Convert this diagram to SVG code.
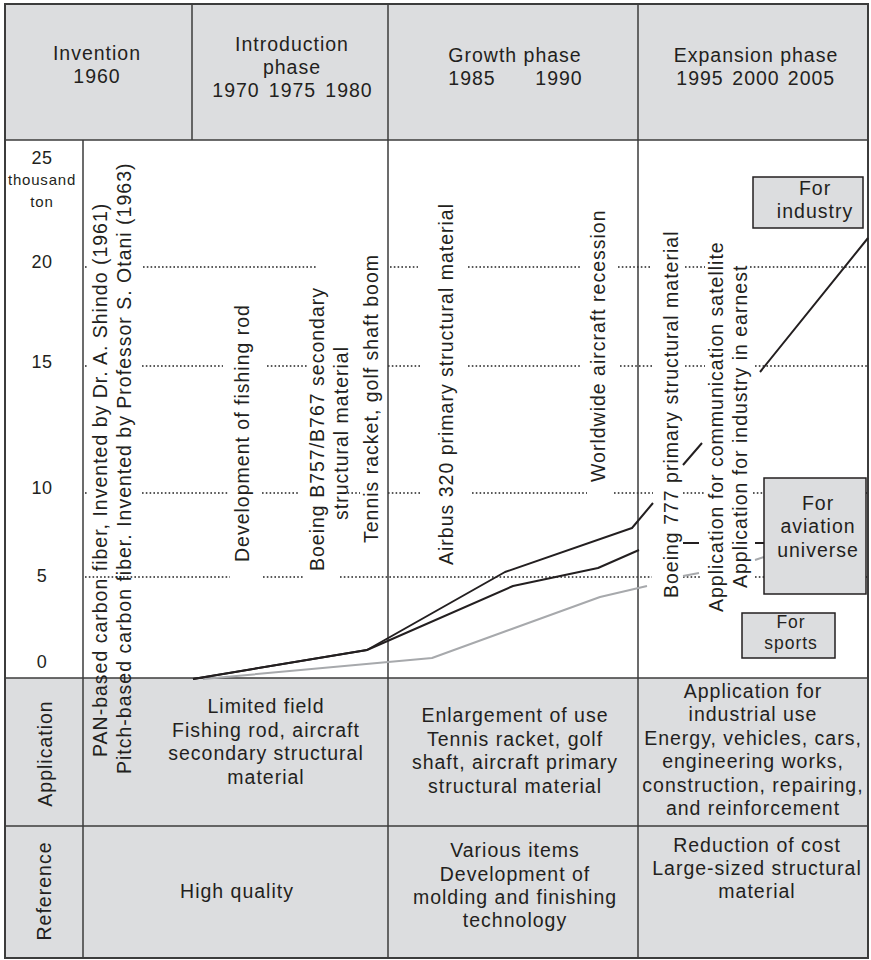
<svg xmlns="http://www.w3.org/2000/svg" width="871" height="960" viewBox="0 0 871 960">
<style>
.t{font-family:"Liberation Sans",Arial,Helvetica,sans-serif;font-size:19.5px;letter-spacing:1px;fill:#231f20}
.m{text-anchor:middle}
.s{font-size:15px;letter-spacing:0.8px}
.a{font-size:18px;letter-spacing:0.5px}
.sp{font-size:17.5px;letter-spacing:1px}
.grid{stroke:#3c3c3c;stroke-width:1.5;fill:none}
.dot{stroke:#222;stroke-width:1.5;stroke-dasharray:1.6 2.2;fill:none}
.bk{stroke:#231f20;stroke-width:2;fill:none;stroke-linejoin:round}
.gr{stroke:#a7a9ac;stroke-width:2;fill:none;stroke-linejoin:round}
.box{fill:#dcdddf;stroke:#231f20;stroke-width:1.5}
.fill{fill:#dcdddf}
</style>
<rect x="0" y="0" width="871" height="960" fill="#fff"/>
<rect class="fill" x="5" y="4" width="863" height="136"/>
<rect class="fill" x="5" y="678" width="863" height="280"/>

<g id="gridlines">
<path class="dot" d="M85,267H88M143,267H317M390,267H418M468,267H580M618,267H652M685,267H705M750,267H868"/>
<path class="dot" d="M85,366H88M142,366H223M267,366H307M388,366H420M468,366H580M620,366H652M685,366H705M755,366H868"/>
<path class="dot" d="M85,493H88M142,493H228M262,493H300M340,493H360M388,493H420M472,493H587M614,493H653M683,493H705M753,493H763M866,493H868"/>
<path class="dot" d="M85,577H230M263,577H303M340,577H652M683,577H700M755,577H764M866,577H868"/>
</g>

<g id="table" class="grid">
<rect x="5" y="4" width="863" height="954" stroke-width="2"/>
<path d="M5,140H868M5,678H868M5,826H868"/>
<path d="M83,140V958M192,4V140M388,4V958M638,4V958"/>
</g>

<g id="header-invention">
<text class="t m" x="97" y="60">Invention</text>
<text class="t m" x="97" y="83">1960</text>
</g>
<g id="header-introduction">
<text class="t m" x="292" y="51">Introduction</text>
<text class="t m" x="292" y="74">phase</text>
<text class="t m" x="236" y="97">1970</text>
<text class="t m" x="292.5" y="97">1975</text>
<text class="t m" x="349" y="97">1980</text>
</g>
<g id="header-growth">
<text class="t m" x="515" y="62">Growth phase</text>
<text class="t m" x="472" y="85">1985</text>
<text class="t m" x="559" y="85">1990</text>
</g>
<g id="header-expansion">
<text class="t m" x="756" y="62">Expansion phase</text>
<text class="t m" x="700" y="85">1995</text>
<text class="t m" x="756" y="85">2000</text>
<text class="t m" x="811.5" y="85">2005</text>
</g>

<g id="axis">
<text class="t m a" x="42" y="164">25</text>
<text class="t m s" x="42" y="185">thousand</text>
<text class="t m s" x="42" y="207">ton</text>
<text class="t m a" x="42" y="268">20</text>
<text class="t m a" x="42" y="368">15</text>
<text class="t m a" x="42" y="494">10</text>
<text class="t m a" x="42" y="582">5</text>
<text class="t m a" x="42" y="668">0</text>
</g>

<g id="connectors">
<path class="gr" d="M203,679L432,658L600,597L647,586"/>
<path class="gr" d="M683,576L699,573M755,560L764,557"/>
<path class="bk" d="M193,679L367,650L513,586L598,568L639,550"/>
<path class="bk" d="M683,543H699M755,543H764"/>
<path class="bk" d="M193,679L367,650L505,572L632,528L653,503"/>
<path class="bk" d="M683,465L702,443M760,372L868,238"/>
</g>

<g id="events">
<text class="t" transform="translate(106.5,757) rotate(-90)">PAN-based carbon fiber, Invented by Dr. A. Shindo (1961)</text>
<text class="t" transform="translate(130.5,774) rotate(-90)">Pitch-based carbon fiber. Invented by Professor S. Otani (1963)</text>
<text class="t" transform="translate(249,562) rotate(-90)">Development of fishing rod</text>
<text class="t" transform="translate(324,571) rotate(-90)">Boeing B757/B767 secondary</text>
<text class="t m" transform="translate(347.5,433) rotate(-90)">structural  material</text>
<text class="t" transform="translate(377.5,543) rotate(-90)">Tennis racket, golf shaft boom</text>
<text class="t" transform="translate(452.5,565) rotate(-90)">Airbus 320 primary structural material</text>
<text class="t" transform="translate(605,482) rotate(-90)">Worldwide aircraft recession</text>
<text class="t" transform="translate(677.5,598) rotate(-90)">Boeing 777 primary structural material</text>
<text class="t" transform="translate(722.5,612) rotate(-90)">Application for communication satellite</text>
<text class="t" transform="translate(747,588) rotate(-90)">Application for industry in earnest</text>
</g>

<g id="box-industry">
<rect class="box" x="753" y="177" width="110" height="51"/>
<text class="t m" x="815" y="195">For</text>
<text class="t m" x="815" y="218">industry</text>
</g>
<g id="box-aviation">
<rect class="box" x="764" y="478" width="102" height="116"/>
<text class="t m" x="818" y="510">For</text>
<text class="t m" x="818" y="533">aviation</text>
<text class="t m" x="818" y="557">universe</text>
</g>
<g id="box-sports">
<rect class="box" x="742" y="613" width="93" height="45"/>
<text class="t m sp" x="791" y="628">For</text>
<text class="t m sp" x="791" y="648.5">sports</text>
</g>

<g id="row-application">
<text class="t m" transform="translate(51.5,753.5) rotate(-90)">Application</text>
<text class="t m" x="266" y="713">Limited field</text>
<text class="t m" x="266" y="736.5">Fishing rod, aircraft</text>
<text class="t m" x="266" y="760">secondary structural</text>
<text class="t m" x="266" y="783.5">material</text>
<text class="t m" x="515" y="722">Enlargement of use</text>
<text class="t m" x="515" y="745.5">Tennis racket, golf</text>
<text class="t m" x="515" y="769">shaft, aircraft primary</text>
<text class="t m" x="515" y="792.5">structural material</text>
<text class="t m" x="753" y="698">Application for</text>
<text class="t m" x="753" y="721">industrial use</text>
<text class="t m" x="753" y="745">Energy, vehicles, cars,</text>
<text class="t m" x="753" y="768">engineering works,</text>
<text class="t m" x="753" y="792">construction, repairing,</text>
<text class="t m" x="753" y="815">and reinforcement</text>
</g>

<g id="row-reference">
<text class="t m" transform="translate(50.5,891) rotate(-90)">Reference</text>
<text class="t m" x="237" y="898">High quality</text>
<text class="t m" x="515" y="857">Various items</text>
<text class="t m" x="515" y="881">Development of</text>
<text class="t m" x="515" y="904">molding and finishing</text>
<text class="t m" x="515" y="927">technology</text>
<text class="t m" x="757" y="852">Reduction of cost</text>
<text class="t m" x="757" y="875">Large-sized structural</text>
<text class="t m" x="757" y="898">material</text>
</g>
</svg>
